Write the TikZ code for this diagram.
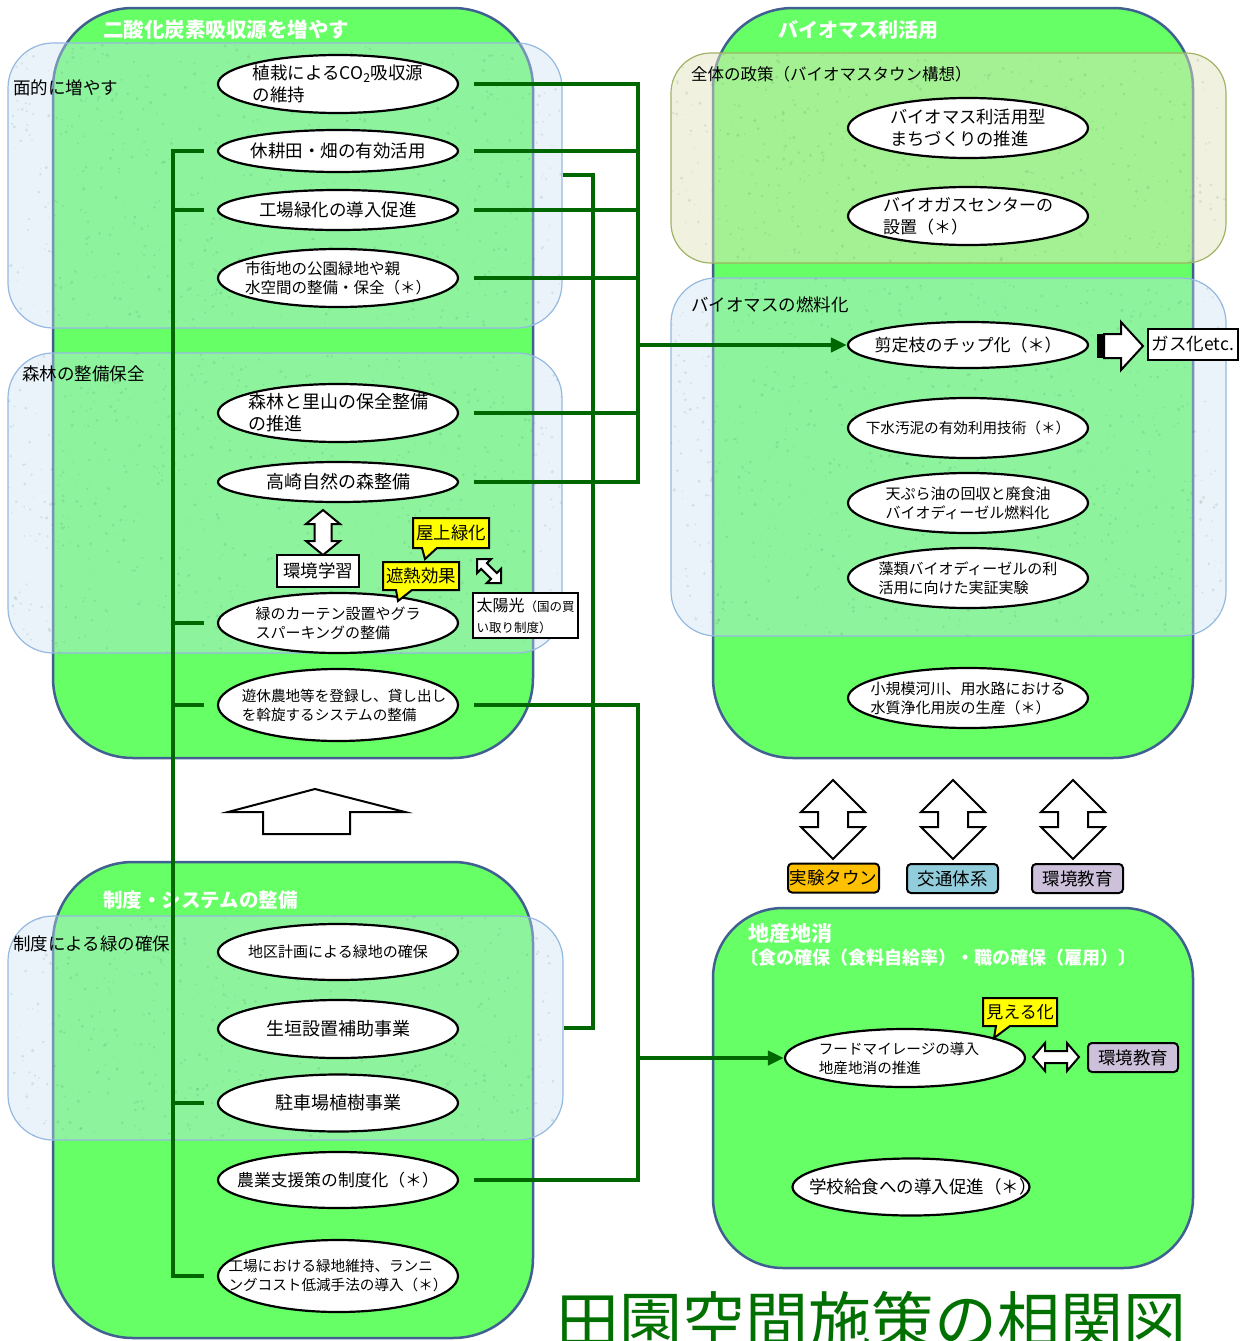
\documentclass[tikz,border=0pt]{standalone}
\usepackage{fontspec}
\setmainfont{Noto Sans CJK JP}
\usetikzlibrary{arrows.meta,shapes.geometric}

\definecolor{blockgreen}{RGB}{102,255,102}
\definecolor{blockedge}{RGB}{65,95,145}
\definecolor{ovbluefill}{RGB}{200,225,240}
\definecolor{ovblueedge}{RGB}{150,185,225}
\definecolor{ovolivefill}{RGB}{225,228,190}
\definecolor{ovoliveedge}{RGB}{160,180,100}
\definecolor{linkgreen}{RGB}{0,102,0}
\definecolor{titlegreen}{RGB}{0,112,0}
\definecolor{noteyellow}{RGB}{255,255,0}
\definecolor{townorange}{RGB}{255,192,0}
\definecolor{trafficblue}{RGB}{146,205,220}
\definecolor{edulilac}{RGB}{204,192,218}
\definecolor{speckcolor}{RGB}{60,100,80}

% grainy paper texture inside a rounded group area
\newcommand\speckleregion[6]{%
  \begin{scope}
    \clip[rounded corners=#6pt] (#1,#2) rectangle ++(#3,#4);
    \foreach \i in {1,...,#5}{%
      \pgfmathsetmacro\px{#1+#3*rnd}%
      \pgfmathsetmacro\py{#2+#4*rnd}%
      \pgfmathsetmacro\pr{0.5+1.3*rnd}%
      \fill[speckcolor,opacity=0.13] (\px,\py) circle[radius=\pr];
    }
  \end{scope}}

\begin{document}
\begin{tikzpicture}[x=1pt,y=-1pt,
  block/.style={draw=blockedge,line width=2.5pt,fill=blockgreen,rounded corners=80pt,inner sep=0pt},
  ovb/.style={draw=ovblueedge,line width=1.2pt,fill=ovbluefill,fill opacity=0.4,rounded corners=45pt,inner sep=0pt},
  ovo/.style={draw=ovoliveedge,line width=1.2pt,fill=ovolivefill,fill opacity=0.5,rounded corners=40pt,inner sep=0pt},
  ell/.style={ellipse,draw=black,line width=2.2pt,fill=white,inner sep=0pt,minimum width=240pt},
  etxt/.style={align=left,inner sep=0pt,font=\fontsize{17.5}{22}\selectfont},
  etxm/.style={align=left,inner sep=0pt,font=\fontsize{15.5}{19.5}\selectfont},
  etxs/.style={align=left,inner sep=0pt,font=\fontsize{14.6}{19}\selectfont},
  grouplbl/.style={anchor=west,inner sep=0pt,font=\fontsize{17.5}{21}\selectfont},
  blocktitle/.style={anchor=west,inner sep=0pt,text=white,font=\bfseries\fontsize{20.5}{24}\selectfont},
  link/.style={draw=linkgreen,line width=4.5pt},
  linktip/.style={-{Triangle[length=16pt,width=14pt]}},
  blockarrow/.style={draw=black,line width=2pt,fill=white,line join=miter},
  note/.style={draw=black,line width=2pt,fill=noteyellow,line join=miter},
  notetext/.style={inner sep=0pt,font=\fontsize{17.5}{21}\selectfont},
  tagbox/.style={draw=black,line width=2pt,fill=white,inner sep=0pt,font=\fontsize{17.5}{21}\selectfont},
  chip/.style={draw=black,line width=2pt,rounded corners=4pt,inner sep=0pt,minimum width=91pt,minimum height=29pt,font=\fontsize{17.5}{21}\selectfont}
]
\useasboundingbox (0,0) rectangle (1243,1341);
\clip (0,0) rectangle (1243,1341);
\pgfmathsetseed{2718}

% ---------- the four theme blocks ----------
\node[block,minimum width=480pt,minimum height=750pt] (gA) at (293,383) {};
\node[block,minimum width=480pt,minimum height=750pt] (gB) at (953,383) {};
\node[block,minimum width=480pt,minimum height=476pt] (gC) at (293,1100) {};
\node[block,rounded corners=70pt,minimum width=480pt,minimum height=360pt] (gD) at (953,1088) {};

\node[blocktitle] (tA) at (103,30) {二酸化炭素吸収源を増やす};
\node[blocktitle,font=\bfseries\fontsize{20}{24}\selectfont] (tB) at (778,30) {バイオマス利活用};
\node[blocktitle,font=\bfseries\fontsize{19.5}{24}\selectfont] (tC) at (103,900) {制度・システムの整備};
\node[blocktitle,font=\bfseries\fontsize{21}{24}\selectfont] (tD) at (748,933) {地産地消};
\node[blocktitle,font=\bfseries\fontsize{18}{22}\selectfont] (tD2) at (740,958) {〔食の確保（食料自給率）・職の確保（雇用）〕};

% ---------- translucent sub-groups ----------
\node[ovb,minimum width=554pt,minimum height=285pt] (ovA) at (285,185.5) {};
\node[ovb,minimum width=554pt,minimum height=300pt] (ovB) at (285,503) {};
\node[ovb,minimum width=555pt,minimum height=224pt] (ovC) at (285.5,1028) {};
\node[ovo,minimum width=555pt,minimum height=210pt] (ovD) at (948.5,158) {};
\node[ovb,minimum width=555pt,minimum height=358pt] (ovE) at (948.5,457) {};

\speckleregion{8}{43}{554}{285}{650}{45}
\speckleregion{8}{353}{554}{300}{680}{45}
\speckleregion{8}{916}{555}{224}{520}{45}
\speckleregion{671}{53}{555}{210}{480}{40}
\speckleregion{671}{278}{555}{358}{820}{45}

\node[grouplbl] (lA) at (13,88) {面的に増やす};
\node[grouplbl] (lB) at (22,374) {森林の整備保全};
\node[grouplbl] (lC) at (13,944) {制度による緑の確保};
\node[grouplbl,font=\fontsize{16.5}{21}\selectfont] (lD) at (691,74) {全体の政策（バイオマスタウン構想）};
\node[grouplbl] (lE) at (691,305) {バイオマスの燃料化};

% ---------- measures ----------
\node[ell,minimum height=58pt] (e1) at (338,84) {};
\node[etxt] (e1t) at (e1) {植栽によるCO\textsubscript{2}吸収源\\の維持};
\node[ell,minimum height=42pt] (e2) at (338,151) {};
\node[etxt] (e2t) at (e2) {休耕田・畑の有効活用};
\node[ell,minimum height=40pt] (e3) at (338,210) {};
\node[etxt] (e3t) at (e3) {工場緑化の導入促進};
\node[ell,minimum height=58pt] (e4) at (338,278) {};
\node[etxm] (e4t) at (e4) {市街地の公園緑地や親\\水空間の整備・保全（＊）};
\node[ell,minimum height=58pt] (e5) at (338,413) {};
\node[etxt,font=\fontsize{18}{22}\selectfont] (e5t) at (e5) {森林と里山の保全整備\\の推進};
\node[ell,minimum height=40pt] (e6) at (338,482) {};
\node[etxt,font=\fontsize{18}{22}\selectfont] (e6t) at (e6) {高崎自然の森整備};
\node[ell,minimum height=60pt] (e7) at (338,623) {};
\node[etxm,font=\fontsize{15}{19}\selectfont] (e7t) at (e7) {緑のカーテン設置やグラ\\スパーキングの整備};
\node[ell,minimum height=72pt] (e8) at (338,705) {};
\node[etxs] (e8t) at ([xshift=6pt]e8.center) {遊休農地等を登録し、貸し出し\\を斡旋するシステムの整備};

\node[ell,minimum height=56pt] (k1) at (338,952) {};
\node[etxm,font=\fontsize{15}{19}\selectfont] (k1t) at (k1) {地区計画による緑地の確保};
\node[ell,minimum height=58pt] (k2) at (338,1029) {};
\node[etxt,font=\fontsize{18}{22}\selectfont] (k2t) at (k2) {生垣設置補助事業};
\node[ell,minimum height=57pt] (k3) at (338,1103) {};
\node[etxt,font=\fontsize{18}{22}\selectfont] (k3t) at (k3) {駐車場植樹事業};
\node[ell,minimum height=56pt] (k4) at (338,1180) {};
\node[etxt,font=\fontsize{16.8}{22}\selectfont] (k4t) at (k4) {農業支援策の制度化（＊）};
\node[ell,minimum height=72pt] (k5) at (338,1276) {};
\node[etxs] (k5t) at (k5) {工場における緑地維持、ランニ\\ングコスト低減手法の導入（＊）};

\node[ell,minimum height=60pt] (r1) at (968,128) {};
\node[etxt,font=\fontsize{17.3}{22}\selectfont] (r1t) at (r1) {バイオマス利活用型\\まちづくりの推進};
\node[ell,minimum height=58pt] (r2) at (968,216) {};
\node[etxt,font=\fontsize{17}{22}\selectfont] (r2t) at (r2) {バイオガスセンターの\\設置（＊）};
\node[ell,minimum height=46pt] (b1) at (968,345) {};
\node[etxt,font=\fontsize{17}{22}\selectfont] (b1t) at (b1) {剪定枝のチップ化（＊）};
\node[ell,minimum height=60pt] (b2) at (968,428) {};
\node[etxs] (b2t) at (b2) {下水汚泥の有効利用技術（＊）};
\node[ell,minimum height=60pt] (b3) at (968,503) {};
\node[etxm,font=\fontsize{15}{19}\selectfont] (b3t) at (b3) {天ぷら油の回収と廃食油\\バイオディーゼル燃料化};
\node[ell,minimum height=60pt] (b4) at (968,578) {};
\node[etxm,font=\fontsize{15}{19}\selectfont] (b4t) at (b4) {藻類バイオディーゼルの利\\活用に向けた実証実験};
\node[ell,minimum height=60pt] (b5) at (968,698) {};
\node[etxm,font=\fontsize{15}{19}\selectfont] (b5t) at (b5) {小規模河川、用水路における\\水質浄化用炭の生産（＊）};

\node[ell,minimum height=58pt] (f1) at (905,1058) {};
\node[etxs] (f1t) at ([xshift=-6pt]f1.center) {フードマイレージの導入\\地産地消の推進};
\node[ell,minimum width=237pt,minimum height=57pt] (f2) at (911,1187) {};
\node[etxt] (f2t) at ([xshift=12pt]f2.center) {学校給食への導入促進（＊）};

% ---------- connectors ----------
\coordinate (busL) at (173,0);
\coordinate (busM) at (593,0);
\coordinate (busR) at (638,0);

\draw[link] ([xshift=-13pt]e2.west) -- (busL |- e2.west) -- (busL |- k5.west) -- ([xshift=-13pt]k5.west);
\foreach \n in {e3,e7,e8,k3}
  \draw[link] (busL |- \n.west) -- ([xshift=-13pt]\n.west);

\draw[link] ([xshift=15pt]e1.east) -- (busR |- e1.east) -- (busR |- e6.east) -- ([xshift=15pt]e6.east);
\foreach \n in {e2,e3,e4,e5}
  \draw[link] ([xshift=15pt]\n.east) -- (busR |- \n.east);
\draw[link,line width=4pt,linktip] (busR |- b1.west) -- (b1.west);

\draw[link,line width=4pt] ([yshift=10.5pt]ovA.east) -| (busM |- ovC.east) -- (ovC.east);

\draw[link] ([xshift=15pt]e8.east) -- (busR |- e8.east) -- (busR |- k4.east) -- ([xshift=15pt]k4.east);
\draw[link,line width=4pt,linktip] (busR |- f1.west) -- (f1.west);

% ---------- block arrows ----------
\draw[blockarrow] (323,510) -- (340,524) -- (331.5,524) -- (331.5,541) -- (340,541) -- (323,555)
  -- (306,541) -- (314.5,541) -- (314.5,524) -- (306,524) -- cycle;
\draw[blockarrow] (501,583) -- (486.9,583) -- (491.1,578.8) -- (481.2,568.9) -- (477,573.1)
  -- (477,559) -- (491.1,559) -- (486.9,563.2) -- (496.8,573.1) -- (501,568.9) -- cycle;
\draw[blockarrow] (315,789) -- (405,812) -- (350,812) -- (350,834) -- (263,834) -- (263,812) -- (228,812) -- cycle;
\foreach \cx in {833,953,1073}
  \draw[blockarrow] (\cx,780) -- (\cx+32,812) -- (\cx+15,812) -- (\cx+15,827) -- (\cx+32,827) -- (\cx,859)
    -- (\cx-32,827) -- (\cx-15,827) -- (\cx-15,812) -- (\cx-32,812) -- cycle;
\draw[blockarrow] (1033,1057) -- (1045,1043) -- (1045,1051) -- (1067,1051) -- (1067,1043) -- (1079,1057)
  -- (1067,1071) -- (1067,1063) -- (1045,1063) -- (1045,1071) -- cycle;
\fill[black] (1097,334) rectangle (1105,358);
\draw[blockarrow] (1104,334) -- (1121,334) -- (1121,322) -- (1143,346) -- (1121,370) -- (1121,358) -- (1104,358) -- cycle;

% ---------- notes and tags ----------
\draw[note] (413,518) -- (489,518) -- (489,548) -- (437,548) -- (425,559) -- (422,548) -- (413,548) -- cycle;
\node[notetext] (nRoof) at (451,533) {屋上緑化};
\draw[note] (383,562) -- (459,562) -- (459,590) -- (412,590) -- (398,601) -- (396,590) -- (383,590) -- cycle;
\node[notetext] (nHeat) at (421,576) {遮熱効果};
\draw[note] (983,998) -- (1057,998) -- (1057,1026) -- (1010,1026) -- (994,1038) -- (996,1026) -- (983,1026) -- cycle;
\node[notetext,font=\fontsize{17}{21}\selectfont] (nSee) at (1020,1012) {見える化};

\node[tagbox,minimum width=82pt,minimum height=32pt] (envlearn) at (318,571) {環境学習};
\node[tagbox,minimum width=105pt,minimum height=45pt,align=left] (solar) at (525.5,615.5)
  {{\fontsize{16}{19}\selectfont 太陽光}{\fontsize{12.5}{19}\selectfont （国の買}\\{\fontsize{12.5}{16}\selectfont い取り制度）}};
\node[tagbox,minimum width=90pt,minimum height=31pt] (gas) at (1193,344) {ガス化etc.};

\node[chip,fill=townorange] (town) at (833.5,878) {実験タウン};
\node[chip,fill=trafficblue] (traffic) at (952.5,878.5) {交通体系};
\node[chip,fill=edulilac] (edu) at (1077.5,878.5) {環境教育};
\node[chip,fill=edulilac,minimum width=90pt] (edu2) at (1133,1057.5) {環境教育};

% ---------- heading ----------
\node[anchor=base west,inner sep=0pt,text=titlegreen,font=\fontsize{63}{63}\selectfont] (heading) at (556,1344) {田園空間施策の相関図};
\end{tikzpicture}
\end{document}
